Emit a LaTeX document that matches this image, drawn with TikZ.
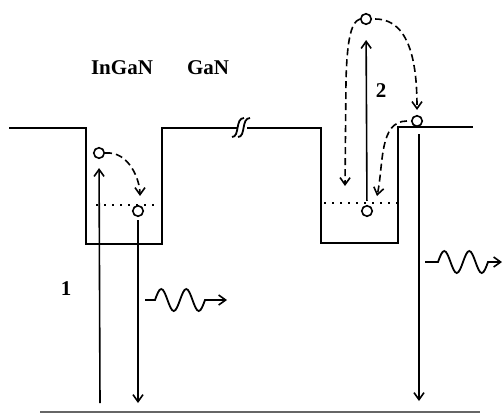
\documentclass[tikz,border=0pt]{standalone}
\usepackage{fontspec}
\setmainfont{Liberation Serif}
\usetikzlibrary{arrows.meta}
\tikzset{
  band/.style={line width=2.2pt, line join=miter},
  level/.style={line width=1.2pt, dash pattern=on 2pt off 6pt},
  electron/.style={circle, draw, line width=1.6pt, minimum size=10.5pt, inner sep=0pt},
  trans/.style={-{Straight Barb[length=7pt,width=10pt,line width=1.6pt]}, line width=1.6pt},
  relax/.style={trans, dash pattern=on 7pt off 4pt},
  photon/.style={trans, line width=1.8pt},
  lbl/.style={font=\bfseries\fontsize{21}{21}\selectfont, inner sep=0pt},
}

\begin{document}
\begin{tikzpicture}[x=1pt,y=-1pt]
    \useasboundingbox (0,0) rectangle (503,413);

    % band edges
    \draw[band] (9,128) -- (86,128) -- (86,244) -- (162,244) -- (162,128) -- (237,128);
    \draw[band] (247,128) -- (321,128) -- (321,243) -- (398,243) -- (398,127) -- (473,127);
    \draw[line width=1.8pt] (232,137) .. controls (240,137) and (235,118) .. (244,118);
    \draw[line width=1.8pt] (238,137) .. controls (246,137) and (241,118) .. (250,118);
    \draw[line width=2pt, black!60] (40,412) -- (480,412);
    \draw[level] (96,205) -- (157,205);
    \draw[level] (324,203) -- (397,203);

    \node[lbl] (ingan) at (122,68) {InGaN};
    \node[lbl] (gan)   at (208,68) {GaN};
    \node[lbl] (n1)    at (66,289) {1};
    \node[lbl] (n2)    at (381,91) {2};

    \node[electron] (e1) at (99,153) {};
    \node[electron] (e2) at (138,211) {};
    \node[electron] (e3) at (366,19) {};
    \node[electron] (e4) at (367,211) {};
    \node[electron] (e5) at (417,121) {};

    \coordinate (p1) at (100,403);
    \coordinate (r1) at (138,403);
    \coordinate (r2) at (419,401);
    \coordinate (t3) at (345,186);
    \coordinate (t4) at (377,196);
    \coordinate (ph1) at (145,300);
    \coordinate (ph2) at (425,262);

    % transitions
    \draw[trans, shorten >=9pt] (p1) -- (e1);
    \draw[trans, shorten <=3pt] (e2) -- (r1);
    \draw[trans, shorten <=4pt, shorten >=15pt] (e4) -- (e3);
    \draw[trans, shorten <=7pt] (e5.south -| r2) -- (r2);
    \draw[relax, shorten >=9pt] (e1.east) to[out=5,in=90] ([xshift=2pt]e2.north);
    \draw[relax] (e3.west) .. controls (350,22) and (347,45) .. (346,80) -- (t3);
    \draw[relax, shorten <=3pt, shorten >=5pt] (e3.east) to[out=0,in=90] (e5.north);
    \draw[relax, shorten <=4pt] (e5.west) to[out=180,in=78] (t4);

    % photons
    \draw[photon] (ph1) -- ++(10,0) sin ++(6.25,-11) cos ++(6.25,11) sin ++(6.25,11) cos ++(6.25,-11)
        sin ++(6.25,-11) cos ++(6.25,11) sin ++(6.25,11) cos ++(6.25,-11) -- ++(22,0);
    \draw[photon] (ph2) -- ++(13,0) sin ++(6.25,-11) cos ++(6.25,11) sin ++(6.25,11) cos ++(6.25,-11)
        sin ++(6.25,-11) cos ++(6.25,11) sin ++(6.25,11) cos ++(6.25,-11) -- ++(14,0);
\end{tikzpicture}
\end{document}
